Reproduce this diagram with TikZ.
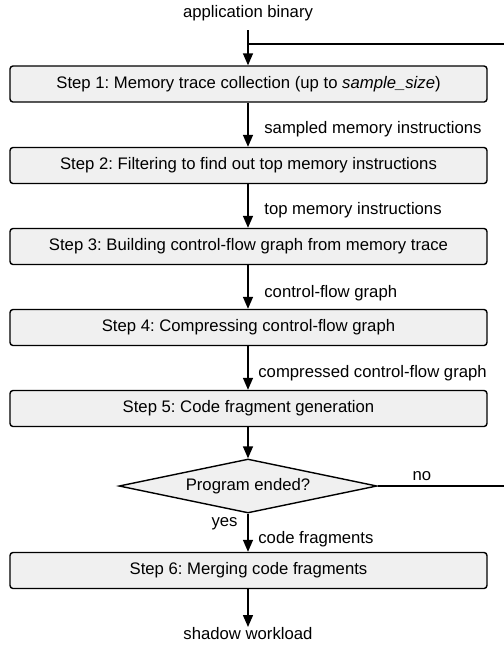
\documentclass[tikz,border=0pt]{standalone}
\usepackage{fontspec}
\setmainfont{Liberation Sans}
\usepackage{xcolor}
\usetikzlibrary{shapes.geometric,arrows.meta}
\frenchspacing

\definecolor{stepgray}{HTML}{F0F0F0}

\tikzset{
  stepbox/.style={draw, line width=0.7pt, fill=stepgray, rounded corners=1.5pt,
    minimum width=238.5pt, minimum height=18pt, inner sep=0pt},
  decision/.style={draw, line width=0.7pt, fill=stepgray, diamond, aspect=4.8,
    minimum width=129pt, minimum height=27pt, inner sep=0pt},
  flow/.style={line width=0.7pt, -{Triangle[width=5pt,length=6pt]}},
  lbl/.style={inner sep=0pt}
}

\begin{document}
\begin{tikzpicture}[x=0.5pt, y=-0.5pt, font=\fontsize{8.35}{10}\selectfont]
        \useasboundingbox (0,0) rectangle (504,645);

        % Input and output
        \node[lbl] (binary) at (248,13) {application binary};
        \coordinate (start) at (248,30);
        \coordinate (join) at (248,44);
        \node[lbl, anchor=north] (shadow) at (248,627) {shadow workload};

        % Steps
        \node[stepbox] (s1) at (248.5,84) {Step 1: Memory trace collection (up to \textit{sample\_size})};
        \node[stepbox] (s2) at (248.5,165.5) {Step 2: Filtering to find out top memory instructions};
        \node[stepbox] (s3) at (248.5,246.5) {Step 3: Building control-flow graph from memory trace};
        \node[stepbox] (s4) at (248.5,327.5) {Step 4: Compressing control-flow graph};
        \node[stepbox] (s5) at (248.5,408.5) {Step 5: Code fragment generation};
        \node[decision] (ended) at (248,486) {Program ended?};
        \node[stepbox] (s6) at (248.5,570.5) {Step 6: Merging code fragments};

        % Arrows between steps
        \draw[flow] (start) -- (s1.north -| start);
        \draw[flow] (s1.south -| start) -- (s2.north -| start);
        \draw[flow] (s2.south -| start) -- (s3.north -| start);
        \draw[flow] (s3.south -| start) -- (s4.north -| start);
        \draw[flow] (s4.south -| start) -- (s5.north -| start);
        \draw[flow] (s5.south -| start) -- (ended.north);
        \draw[flow] (ended.south) -- (s6.north -| start);
        \draw[flow] (s6.south -| start) -- (shadow.north);

        % Loop back when not ended
        \coordinate (noout) at (504,486);
        \coordinate (noin) at (504,44);
        \draw[line width=0.7pt] (ended.east) -- (noout);
        \draw[line width=0.7pt] (noin) -- (join);

        % Labels on the arrows
        \node[lbl, anchor=west] (l1) at (264,129) {sampled memory instructions};
        \node[lbl, anchor=west] (l2) at (264,210) {top memory instructions};
        \node[lbl, anchor=west] (l3) at (264,293) {control-flow graph};
        \node[lbl, anchor=west] (l4) at (258,373) {compressed control-flow graph};
        \node[lbl] (lno) at (422,476) {no};
        \node[lbl, anchor=east] (lyes) at (238,524) {yes};
        \node[lbl, anchor=west] (l5) at (258,539) {code fragments};
\end{tikzpicture}
\end{document}
